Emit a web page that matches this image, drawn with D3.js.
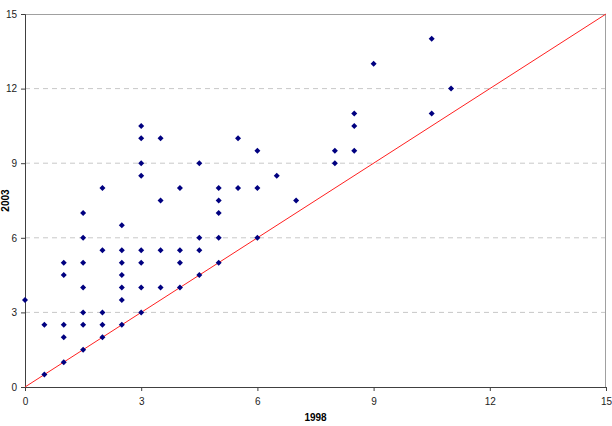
<!DOCTYPE html>
<html>
<head>
<meta charset="utf-8">
<script src="https://cdn.jsdelivr.net/npm/d3@7"></script>
<style>
  body { margin: 0; background: #fff; }
  svg { display: block; font-family: "Liberation Sans", Arial, sans-serif; }
</style>
</head>
<body>
<div id="chart"></div>
<script>
  // values 1998 (x) against 2003 (y)
  var xValues = [0, 0.5, 0.5, 1, 1, 1, 1, 1,
                 1.5, 1.5, 1.5, 1.5, 1.5, 1.5, 1.5,
                 2, 2, 2, 2, 2,
                 2.5, 2.5, 2.5, 2.5, 2.5, 2.5, 2.5,
                 3, 3, 3, 3, 3, 3, 3, 3,
                 3.5, 3.5, 3.5, 3.5,
                 4, 4, 4, 4,
                 4.5, 4.5, 4.5, 4.5,
                 5, 5, 5, 5, 5,
                 5.5, 5.5, 6, 6, 6, 6.5, 7,
                 8, 8, 8.5, 8.5, 8.5, 9, 10.5, 10.5, 11];
  var yValues = [3.5, 2.5, 0.5, 5, 4.5, 2.5, 2, 1,
                 7, 6, 5, 4, 3, 2.5, 1.5,
                 8, 5.5, 3, 2.5, 2,
                 6.5, 5.5, 5, 4.5, 4, 3.5, 2.5,
                 10.5, 10, 9, 8.5, 5.5, 5, 4, 3,
                 10, 7.5, 5.5, 4,
                 8, 5.5, 5, 4,
                 9, 6, 5.5, 4.5,
                 8, 7.5, 7, 6, 5,
                 10, 8, 9.5, 8, 6, 8.5, 7.5,
                 9.5, 9, 11, 10.5, 9.5, 13, 14, 11, 12];
  var xTicks = [0, 3, 6, 9, 12, 15];
  var yTicks = [0, 3, 6, 9, 12, 15];
  var refLine = [0, 15];

  var width = 612, height = 426;
  var margin = {top: 14, right: 6, bottom: 39, left: 25};
  var innerW = width - margin.left - margin.right;
  var innerH = height - margin.top - margin.bottom;

  var svg = d3.select('#chart').append('svg')
    .attr('width', width)
    .attr('height', height);

  var g = svg.append('g')
    .attr('transform', 'translate(' + margin.left + ',' + margin.top + ')');

  var x = d3.scaleLinear().domain([0, 15]).range([0, innerW]);
  var y = d3.scaleLinear().domain([0, 15]).range([innerH, 0]);

  // dashed grid lines
  g.selectAll('line.grid')
    .data(yTicks.filter(function(t) { return t > 0 && t < 15; }))
    .enter().append('line')
    .attr('class', 'grid')
    .attr('x1', 0)
    .attr('x2', innerW)
    .attr('y1', function(d) { return y(d); })
    .attr('y2', function(d) { return y(d); })
    .style('stroke', '#c8c8c8')
    .style('stroke-width', 1)
    .style('stroke-dasharray', '5,4');

  // gray frame on top and right
  g.append('path')
    .attr('d', 'M0,0.5H' + (innerW - 0.5) + 'V' + innerH)
    .style('fill', 'none')
    .style('stroke', '#a0a0a0')
    .style('stroke-width', 1);

  var xAxis = g.append('g')
    .attr('transform', 'translate(0,' + innerH + ')')
    .call(d3.axisBottom(x).tickValues(xTicks).tickSize(4).tickPadding(7));
  var yAxis = g.append('g')
    .call(d3.axisLeft(y).tickValues(yTicks).tickSize(4).tickPadding(4));

  [xAxis, yAxis].forEach(function(ax) {
    ax.select('.domain').style('stroke', '#404040');
    ax.selectAll('.tick line').style('stroke', '#404040');
    ax.selectAll('text')
      .style('font-size', '10px')
      .style('fill', '#222')
      .style('font-family', '"Liberation Sans", Arial, sans-serif');
  });

  // y = x reference line
  g.append('line')
    .attr('x1', x(refLine[0]))
    .attr('y1', y(refLine[0]))
    .attr('x2', x(refLine[1]))
    .attr('y2', y(refLine[1]))
    .style('stroke', '#ff2020')
    .style('stroke-width', 1);

  var points = xValues.map(function(v, i) { return [v, yValues[i]]; });
  g.selectAll('path.pt')
    .data(points)
    .enter().append('path')
    .attr('class', 'pt')
    .attr('d', d3.symbol().type(d3.symbolSquare).size(18))
    .attr('transform', function(d) {
      return 'translate(' + x(d[0]) + ',' + y(d[1]) + ') rotate(45)';
    })
    .style('fill', '#000080');

  svg.append('text')
    .attr('x', margin.left + x(7.5))
    .attr('y', 421)
    .attr('text-anchor', 'middle')
    .style('font-size', '10px')
    .style('font-weight', 'bold')
    .text('1998');

  svg.append('text')
    .attr('transform', 'translate(9,' + (margin.top + y(7.5)) + ') rotate(-90)')
    .attr('text-anchor', 'middle')
    .style('font-size', '10px')
    .style('font-weight', 'bold')
    .text('2003');
</script>
</body>
</html>
